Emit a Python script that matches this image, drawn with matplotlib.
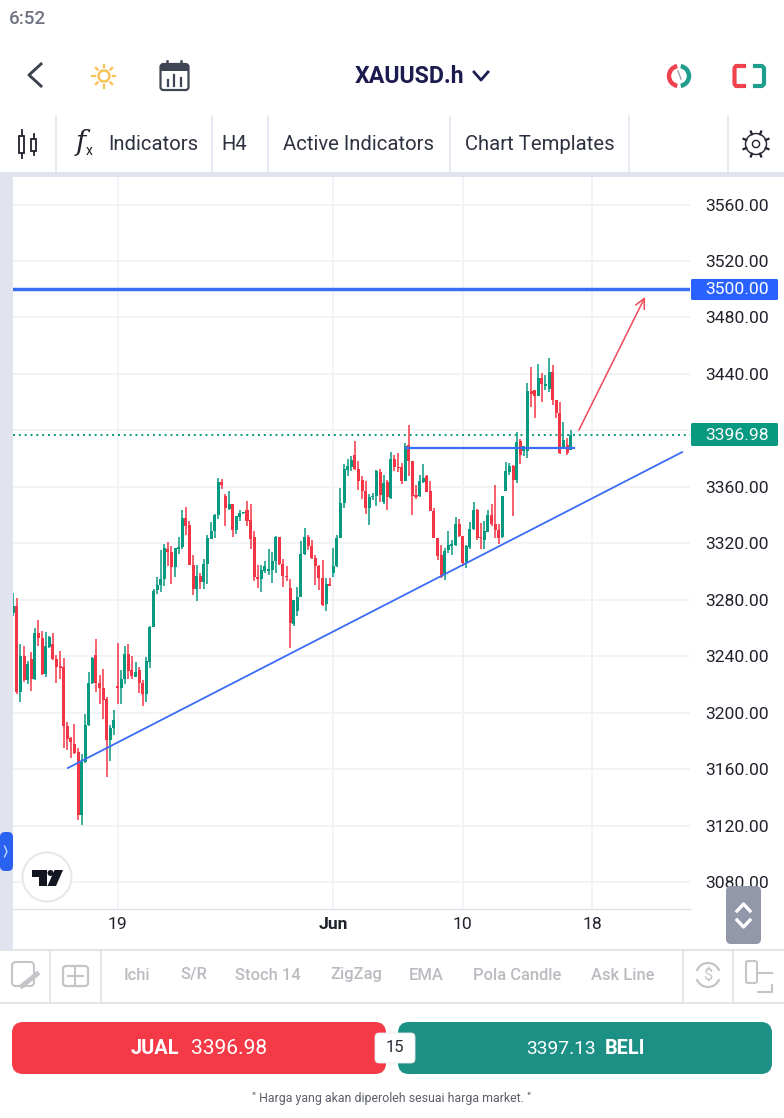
import numpy as np
import matplotlib
matplotlib.use("Agg")
import matplotlib.pyplot as plt
from matplotlib.patches import FancyBboxPatch, Rectangle, Circle, Arc, Polygon, FancyArrowPatch

plt.rcParams['font.family'] = ['Roboto', 'DejaVu Sans']

# ---------- data ----------
open_ = [3270.5,3275.5,3214.3,3240.0,3222.8,3237.9,3224.2,3256.1,3252.8,3227.1,
3246.4,3248.8,3238.2,3233.4,3232.2,3190.7,3182.2,3177.9,3172.2,3127.8,
3164.9,3191.6,3220.9,3240.5,3221.1,3217.8,3209.6,3180.3,3189.3,3218.5,
3217.8,3224.0,3241.7,3229.9,3225.6,3229.9,3220.7,3213.1,3235.8,3260.8,
3286.6,3290.1,3294.6,3316.1,3313.7,3302.9,3316.1,3317.7,3337.8,3332.6,
3304.8,3287.5,3296.5,3292.9,3305.0,3322.9,3328.8,3339.7,3363.1,3353.2,
3344.2,3347.5,3329.1,3338.5,3341.1,3343.7,3336.2,3324.1,3296.2,3294.8,
3300.7,3300.5,3301.2,3307.4,3324.6,3305.2,3296.5,3288.5,3263.0,3272.2,
3282.1,3312.3,3324.8,3318.2,3309.9,3304.0,3295.1,3276.9,3291.3,3298.8,
3303.6,3323.6,3348.4,3372.1,3374.0,3382.7,3372.6,3364.5,3357.2,3345.2,
3352.5,3353.7,3370.7,3349.6,3363.1,3352.2,3379.6,3374.0,3374.0,3364.3,
3389.8,3378.5,3353.9,3353.2,3363.6,3367.4,3357.0,3343.0,3323.9,3311.9,
3297.7,3314.9,3318.2,3318.7,3333.8,3325.3,3305.9,3317.7,3330.0,3343.7,
3324.8,3322.5,3328.1,3339.7,3333.8,3329.5,3324.1,3356.7,3370.2,3374.9,
3365.0,3392.6,3385.3,3385.3,3427.8,3428.3,3424.0,3437.0,3431.6,3429.2,
3441.3,3421.7,3412.2,3387.4,3389.8,3386.2]
close = [3275.5,3214.3,3240.0,3222.8,3234.8,3224.2,3256.1,3252.8,3227.1,3246.9,
3253.5,3238.2,3232.7,3231.3,3190.4,3181.5,3179.1,3171.3,3127.8,3164.9,
3191.6,3220.9,3238.6,3221.1,3217.6,3209.1,3180.3,3189.3,3194.5,3217.8,
3223.5,3241.7,3229.4,3225.9,3228.7,3220.7,3213.1,3236.3,3260.8,3286.3,
3290.6,3294.8,3316.6,3313.5,3302.9,3316.6,3317.5,3337.8,3332.4,3304.5,
3287.5,3297.0,3292.9,3305.5,3323.9,3328.8,3339.7,3363.1,3361.0,3344.9,
3347.5,3329.1,3339.0,3341.4,3341.8,3335.9,3323.2,3295.8,3294.8,3301.2,
3304.0,3301.9,3307.4,3324.8,3305.0,3296.5,3296.2,3263.4,3280.0,3282.1,
3312.5,3324.8,3318.2,3309.7,3303.6,3295.1,3276.4,3291.3,3289.6,3304.0,
3323.6,3348.4,3372.8,3374.4,3379.2,3372.6,3364.3,3357.0,3345.2,3352.7,
3353.7,3370.9,3353.9,3362.6,3352.5,3379.6,3373.7,3373.3,3364.1,3389.1,
3378.0,3353.7,3353.0,3364.3,3366.2,3356.5,3342.6,3323.9,3310.7,3295.8,
3314.2,3318.9,3319.4,3333.8,3325.3,3306.0,3318.4,3330.0,3343.7,3323.6,
3323.6,3328.4,3340.2,3333.8,3329.1,3323.6,3353.2,3370.9,3374.9,3365.0,
3392.1,3382.7,3389.1,3427.8,3425.9,3424.0,3437.0,3432.8,3432.8,3441.3,
3421.7,3412.2,3383.9,3392.9,3383.9,3397.0]
high = [3284.7,3281.4,3248.3,3247.4,3236.5,3243.3,3260.1,3265.3,3258.2,3257.3,
3254.0,3256.6,3241.2,3243.6,3238.4,3193.5,3182.6,3192.3,3175.3,3170.8,
3199.4,3228.9,3239.1,3251.9,3227.0,3231.1,3211.0,3191.6,3202.2,3249.5,
3230.4,3247.4,3248.3,3239.8,3235.6,3232.2,3222.8,3239.1,3261.1,3287.3,
3295.8,3314.9,3319.6,3321.1,3318.2,3316.8,3324.4,3343.3,3345.6,3335.7,
3311.6,3304.8,3298.8,3308.8,3326.0,3334.8,3340.4,3366.2,3365.7,3355.1,
3357.0,3347.5,3339.5,3343.7,3341.8,3350.1,3347.5,3328.4,3304.5,3304.5,
3307.6,3315.9,3313.5,3325.1,3324.8,3308.8,3303.6,3294.6,3280.0,3289.2,
3321.5,3331.0,3326.0,3322.5,3311.8,3304.3,3308.3,3295.3,3295.3,3316.6,
3326.0,3359.1,3376.1,3379.6,3382.0,3392.4,3378.0,3367.8,3363.8,3354.6,
3355.5,3372.1,3372.6,3368.5,3364.5,3384.8,3382.2,3384.1,3376.8,3391.0,
3404.0,3378.5,3361.5,3368.1,3376.1,3368.1,3364.3,3344.9,3323.9,3319.0,
3316.6,3328.4,3322.0,3338.3,3337.1,3325.3,3318.9,3335.0,3348.9,3344.2,
3334.7,3335.5,3343.3,3348.0,3361.0,3333.8,3353.2,3377.3,3376.8,3375.6,
3399.0,3393.8,3389.1,3433.5,3444.8,3428.8,3446.9,3440.6,3439.4,3451.2,
3446.5,3421.7,3420.0,3405.6,3394.3,3400.4]
low = [3268.2,3212.9,3207.2,3221.6,3220.0,3215.5,3223.3,3246.9,3226.6,3225.2,
3245.7,3237.0,3221.1,3224.2,3174.9,3173.9,3167.8,3170.8,3123.6,3120.3,
3164.2,3190.2,3220.0,3214.5,3206.3,3195.4,3154.3,3165.6,3184.5,3206.0,
3206.3,3220.0,3224.2,3223.7,3225.6,3213.8,3204.6,3207.4,3231.3,3260.6,
3284.2,3285.6,3289.9,3303.6,3291.1,3295.8,3312.3,3315.9,3326.0,3304.3,
3283.5,3279.2,3287.5,3287.5,3291.3,3323.4,3323.9,3337.1,3358.6,3331.9,
3343.7,3324.1,3326.7,3335.9,3340.7,3332.4,3316.3,3293.0,3288.2,3285.6,
3299.3,3297.7,3292.0,3298.9,3304.8,3289.2,3293.0,3245.7,3261.5,3268.6,
3281.8,3311.8,3315.4,3308.8,3290.6,3287.0,3275.9,3272.2,3289.4,3295.8,
3303.1,3323.4,3344.9,3367.8,3371.4,3372.1,3357.9,3351.3,3340.9,3333.1,
3350.8,3346.6,3349.4,3348.0,3343.7,3351.3,3371.1,3370.7,3361.7,3364.1,
3367.4,3340.0,3351.3,3352.7,3362.6,3356.5,3342.6,3323.9,3308.3,3295.3,
3293.7,3313.0,3311.4,3317.8,3324.8,3303.6,3302.4,3316.1,3329.5,3322.0,
3315.9,3315.9,3327.7,3331.9,3323.6,3319.4,3323.6,3356.7,3368.5,3339.0,
3362.6,3376.3,3382.0,3380.3,3416.9,3408.7,3424.0,3419.8,3428.8,3426.9,
3418.1,3408.7,3383.2,3387.4,3382.7,3385.8]

tick_positions = [29, 89, 125, 161]
tick_labels = ['19', 'Jun', '10', '18']
price_ticks = list(range(3080, 3561, 40))
last_price = 3396.98
ask_price = 3397.13
level_price = 3500.0
trend_x = [15.2, 186.0]
trend_y = [3160.8, 3384.6]
support_x = [109.2, 156.0]
support_y = [3387.8, 3387.8]
arrow_x = [157.3, 175.7]
arrow_y = [3400.2, 3494.5]

RED, GREEN, BLUE = '#f23645', '#089981', '#2962ff'
LINE = '#3b6cf5'
GRID = '#f1f2f6'

W, H = 784, 1118
fig = plt.figure(figsize=(W/100, H/100), dpi=100, facecolor='white')

def px_axes(z):
    a = fig.add_axes([0, 0, 1, 1], zorder=z)
    a.set_xlim(0, W); a.set_ylim(H, 0); a.axis('off'); a.patch.set_alpha(0)
    return a

ui = px_axes(0)

# ---------- chart ----------
x0, x1, y0, y1 = 13, 690, 177, 909
ax = fig.add_axes([x0/W, 1-y1/H, (x1-x0)/W, (y1-y0)/H], zorder=1)
ax.patch.set_alpha(0)
n = len(open_)
idx = np.arange(n)
ax.set_xlim(-0.08, 188.2)
ax.set_ylim(3060.9, 3579.5)
ax.set_xticks(tick_positions, tick_labels, fontsize=12.6, color='#20222c')
ax.get_xticklabels()[1].set_fontweight('bold')
ax.yaxis.tick_right()
# the 3400 label sits behind the last-price tag in the reference
ax.set_yticks(price_ticks, ['' if p == 3400 else f'{p:.2f}' for p in price_ticks], fontsize=12.6, color='#20222c')
ax.tick_params(axis='both', length=0)
ax.tick_params(axis='y', pad=11)
ax.tick_params(axis='x', pad=6)
ax.grid(True, color=GRID, lw=1.3)
ax.set_axisbelow(True)
for s in ('top', 'left', 'right'):
    ax.spines[s].set_visible(False)
ax.spines['bottom'].set_color('#e0e2ea')
ax.spines['bottom'].set_linewidth(1.0)

colors = [GREEN if c >= o else RED for o, c in zip(open_, close)]
ax.vlines(idx, low, high, colors=colors, lw=1.1, zorder=3)
bottoms = np.minimum(open_, close)
heights = np.maximum(np.abs(np.array(close) - np.array(open_)), 0.8)
ax.bar(idx, heights, bottom=bottoms, width=0.84, color=colors, lw=0, zorder=3)

ax.axhline(last_price, color=GREEN, lw=1.4, ls=(0, (1, 2)), zorder=2)
ax.axhline(level_price, color=LINE, lw=2.5, zorder=4)
ax.plot(trend_x, trend_y, color=LINE, lw=1.3, zorder=4)
ax.plot(support_x, support_y, color=LINE, lw=1.6, zorder=4)
ax.add_patch(FancyArrowPatch((arrow_x[0], arrow_y[0]), (arrow_x[1], arrow_y[1]),
                             arrowstyle='->,head_length=7,head_width=3.5',
                             color='#f2495a', lw=1.1, zorder=5, shrinkA=0, shrinkB=0))

top = px_axes(3)

# ---------- price labels ----------
def box(a, x, y, w, h, r, fc, ec='none', lw=0, z=2):
    a.add_patch(FancyBboxPatch((x+r, y+r), w-2*r, h-2*r, boxstyle=f'round,pad={r},rounding_size={r}',
                               fc=fc, ec=ec, lw=lw, zorder=z, mutation_aspect=1))

box(top, 691, 279, 87, 21, 1.5, BLUE)
top.text(737, 289.5, f'{level_price:.2f}', color='white', fontsize=12.6, ha='center', va='center', zorder=3)
box(top, 691, 423, 87, 23, 1.5, GREEN)
top.text(737, 435, f'{last_price:.2f}', color='white', fontsize=12.6, ha='center', va='center', zorder=3)

# ---------- left strip / frame ----------
top.add_patch(Rectangle((0, 172), W, 5, fc='#e1e4ef', ec='none', zorder=1))
top.add_patch(Rectangle((0, 172), 13, 778, fc='#e1e4ef', ec='none', zorder=1))
box(top, 0, 832, 13, 39, 5, '#2a62f0')
top.plot([4.5, 7, 4.5], [846, 851.5, 857], color='#cfe0ff', lw=0.9, zorder=3)

# TradingView badge
top.add_patch(Circle((47, 877), 24.5, fc='white', ec='#e6e7ec', lw=1.4, zorder=2))
top.add_patch(Polygon([(32, 870), (47, 870), (47, 886), (39.5, 886), (39.5, 876.5), (32, 876.5)], fc='#131722', ec='none', zorder=3))
top.add_patch(Circle((50.5, 873), 3, fc='#131722', ec='none', zorder=3))
top.add_patch(Polygon([(54.5, 870), (63, 870), (56, 886), (47.5, 886)], fc='#131722', ec='none', zorder=3))

# scale button
box(top, 726, 886, 35, 58, 5, '#9297a9')
top.plot([737, 743.5, 750], [911, 904, 911], color='white', lw=2.4, zorder=3)
top.plot([737, 743.5, 750], [920, 927, 920], color='white', lw=2.4, zorder=3)

# ---------- header ----------
ui.text(9, 18.5, '6:52', color='#6f7280', fontsize=13.5, fontweight='medium', ha='left', va='center')
ui.plot([41, 29, 41], [64, 75, 86], color='#3c4250', lw=2.1)
# sun
ui.add_patch(Circle((104, 76), 5.5, fc='none', ec='#f9c254', lw=1.7))
for a_ in np.arange(0, 360, 45):
    r = np.radians(a_)
    ui.plot([104+9*np.cos(r), 104+11.5*np.cos(r)], [76+9*np.sin(r), 76+11.5*np.sin(r)], color='#f9c254', lw=1.6)
# calendar
box(ui, 160.5, 64, 28, 26, 3, 'white', '#3f4554', 1.6)
ui.add_patch(Rectangle((161, 64), 27, 6.5, fc='#3f4554', ec='none', zorder=3))
for xx in (167, 181):
    ui.plot([xx, xx], [61, 68], color='#3f4554', lw=1.8, zorder=4)
for xx, yy in ((168, 80), (174.5, 75), (181, 78)):
    ui.plot([xx, xx], [yy, 86], color='#3f4554', lw=1.6, zorder=4)
ui.text(355, 76.5, 'XAUUSD.h', color='#1d1c4f', fontsize=16.7, fontweight='bold', ha='left', va='center')
ui.plot([474, 481, 488], [72, 80, 72], color='#1d1c4f', lw=2.0)
# clock icon
ui.add_patch(Arc((679, 76), 20, 20, theta1=100, theta2=260, ec='#f0424e', lw=3.2))
ui.add_patch(Arc((679, 76), 20, 20, theta1=280, theta2=80, ec='#1f9d8d', lw=3.2))
ui.plot([678, 681], [71, 79], color='#9aa0ad', lw=1.0)
# bracket icon
ui.plot([744, 736, 734.5, 734.5, 736, 744], [66, 66, 68, 84, 86, 86], color='#f0424e', lw=3.0)
ui.plot([755, 762, 764, 764, 762, 755], [66, 66, 68, 84, 86, 86], color='#1f9d8d', lw=3.0)

# ---------- toolbar ----------
for xx in (56, 212, 268, 450, 629, 728):
    ui.plot([xx, xx], [116, 172], color='#e2e4ee', lw=1.1)
for txt, xx in (('Indicators', 108), ('H4', 221), ('Active Indicators', 283), ('Chart Templates', 465)):
    ui.text(xx, 144, txt, color='#2e3240', fontsize=14.6, ha='left', va='center')
# candle icon
ui.add_patch(Rectangle((19.5, 136), 5, 17, fc='white', ec='#20222c', lw=1.3))
ui.plot([22, 22], [130, 158], color='#20222c', lw=1.3, zorder=0)
ui.add_patch(Rectangle((31.5, 139), 5, 12, fc='white', ec='#20222c', lw=1.3))
ui.plot([34, 34], [134, 155], color='#20222c', lw=1.3, zorder=0)
ui.text(81, 143, 'f', color='#20222c', fontsize=20, style='italic', family='DejaVu Serif', ha='center', va='center')
ui.text(89, 151, 'x', color='#20222c', fontsize=10, ha='center', va='center')
# gear
ui.add_patch(Circle((756, 144), 3.6, fc='none', ec='#20222c', lw=1.0))
ui.add_patch(Circle((756, 144), 10.5, fc='none', ec='#20222c', lw=1.0))
for a_ in np.arange(0, 360, 45):
    r = np.radians(a_ + 22.5)
    ui.plot([756+10.5*np.cos(r), 756+13.5*np.cos(r)], [144+10.5*np.sin(r), 144+13.5*np.sin(r)], color='#20222c', lw=1.6)

# ---------- lower toolbar ----------
ui.plot([0, W], [950, 950], color='#e0e0e0', lw=1.2)
ui.plot([0, W], [1003, 1003], color='#e0e0e0', lw=1.2)
for xx in (50, 101, 683, 733):
    ui.plot([xx, xx], [950, 1003], color='#e0e0e0', lw=1.1)
for txt, xx in (('Ichi', 124), ('S/R', 180), ('Stoch 14', 235), ('ZigZag', 330), ('EMA', 409), ('Pola Candle', 473), ('Ask Line', 591)):
    ui.text(xx, 975, txt, color='#b9bbc0', fontsize=11.9, fontweight='medium', ha='left', va='center')
G2 = '#c4c5c9'
box(ui, 12, 962, 22, 24, 4, 'white', G2, 1.5)
ui.plot([22, 37], [986, 974], color=G2, lw=3.5)
box(ui, 63, 966, 25, 20, 3, 'white', G2, 1.6)
ui.plot([75, 75], [966, 986], color=G2, lw=1.5)
ui.plot([68, 83], [976, 976], color=G2, lw=1.5)
ui.add_patch(Arc((708, 975), 24, 24, theta1=200, theta2=340, ec=G2, lw=1.6))
ui.add_patch(Arc((708, 975), 24, 24, theta1=20, theta2=160, ec=G2, lw=1.6))
ui.text(708, 975, '$', color=G2, fontsize=12, ha='center', va='center')
box(ui, 746, 961, 11, 22, 2, 'white', G2, 1.5)
ui.plot([758, 772, 772], [992, 992, 985], color=G2, lw=1.5)
ui.plot([757, 772], [973, 973], color=G2, lw=1.5)

# ---------- buy / sell ----------
box(ui, 12, 1022, 374, 52, 11, '#f53a47')
box(ui, 398, 1022, 374, 52, 11, '#1d9085')
ui.text(131, 1049, 'JUAL', color='white', fontsize=14.4, fontweight='bold', ha='left', va='center', zorder=4)
ui.text(191, 1049, f'{last_price:.2f}', color='white', fontsize=15, ha='left', va='center', zorder=4)
ui.text(526, 1049, f'{ask_price:.2f}', color='white', fontsize=13.8, ha='left', va='center', zorder=4)
ui.text(605, 1049, 'BELI', color='white', fontsize=14.4, fontweight='bold', ha='left', va='center', zorder=4)
box(ui, 375, 1033, 40, 30, 4, 'white', '#e8e8e8', 0.6, z=5)
ui.text(395, 1048, '15', color='#2b2d36', fontsize=12, ha='center', va='center', zorder=6)
ui.text(392, 1098.5, '" Harga yang akan diperoleh sesuai harga market. "', color='#5c5f6a', fontsize=8.9, ha='center', va='center')

fig.savefig('out.png', dpi=100)
